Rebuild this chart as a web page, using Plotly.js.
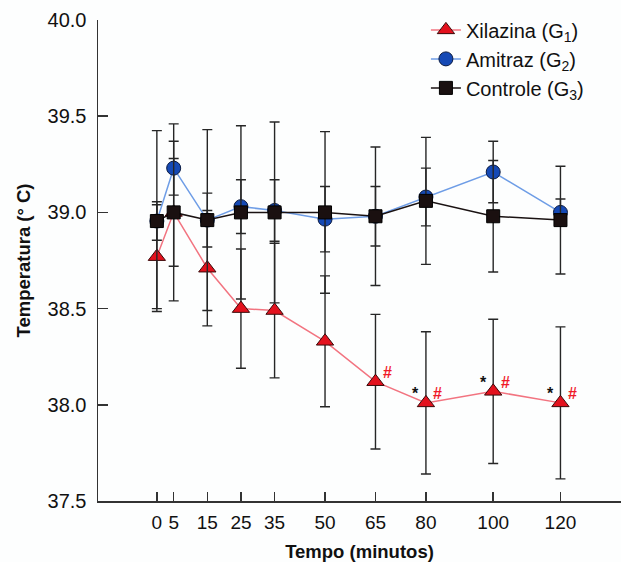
<!DOCTYPE html>
<html>
<head>
<meta charset="utf-8">
<script src="https://cdn.plot.ly/plotly-3.0.1.min.js"></script>
<style>html,body{margin:0;padding:0;background:#fff;}#chart{width:621px;height:562px;}</style>
</head>
<body>
<div id="chart"></div>
<script>
// Time points (minutes)
const tempo = [0, 5, 15, 25, 35, 50, 65, 80, 100, 120];

// Xilazina (G1)
const xilazina = [38.77, 39.00, 38.71, 38.50, 38.49, 38.33, 38.12, 38.01, 38.07, 38.01];
const xilazinaErr = [0.27, 0.46, 0.30, 0.31, 0.35, 0.34, 0.35, 0.37, 0.375, 0.395];

// Amitraz (G2)
const amitraz = [38.955, 39.23, 38.96, 39.03, 39.01, 38.965, 38.98, 39.08, 39.21, 39.00];
const amitrazErr = [0.47, 0.14, 0.47, 0.14, 0.16, 0.17, 0.155, 0.15, 0.16, 0.07];

// Controle (G3)
const controle = [38.955, 39.00, 38.96, 39.00, 39.00, 39.00, 38.98, 39.06, 38.98, 38.96];
const controleErr = [0.10, 0.28, 0.14, 0.45, 0.47, 0.42, 0.36, 0.33, 0.29, 0.28];

// Significance marks on Xilazina
const sigStar = [false, false, false, false, false, false, false, true, true, true];
const sigHash = [false, false, false, false, false, false, true, true, true, true];

const yTicks = [37.5, 38.0, 38.5, 39.0, 39.5, 40.0];

const errStyle = {type: 'data', visible: true, color: '#262626', thickness: 1.4, width: 5};

const traces = [
  {
    x: tempo, y: xilazina, name: 'Xilazina (G<sub>1</sub>)', mode: 'lines+markers', type: 'scatter',
    line: {color: '#f27480', width: 1.5},
    marker: {symbol: 'triangle-up', size: 15, color: '#e3111d', line: {color: '#3a0a0a', width: 1}},
    error_y: Object.assign({array: xilazinaErr}, errStyle)
  },
  {
    x: tempo, y: amitraz, name: 'Amitraz (G<sub>2</sub>)', mode: 'lines+markers', type: 'scatter',
    line: {color: '#6e9de6', width: 1.5},
    marker: {symbol: 'circle', size: 14, color: '#1549b5', line: {color: '#0a1a40', width: 1}},
    error_y: Object.assign({array: amitrazErr}, errStyle)
  },
  {
    x: tempo, y: controle, name: 'Controle (G<sub>3</sub>)', mode: 'lines+markers', type: 'scatter',
    line: {color: '#1a1212', width: 1.5},
    marker: {symbol: 'square', size: 13, color: '#1a1010', line: {color: '#000', width: 1}},
    error_y: Object.assign({array: controleErr}, errStyle)
  }
];

const annotations = [];
tempo.forEach((t, i) => {
  if (sigStar[i]) {
    annotations.push({x: t, y: xilazina[i], xref: 'x', yref: 'y', text: '<b>*</b>', showarrow: false,
      xshift: -10, yshift: 9, font: {family: 'Liberation Sans, Arial, sans-serif', size: 16, color: '#111'}});
  }
  if (sigHash[i]) {
    annotations.push({x: t, y: xilazina[i], xref: 'x', yref: 'y', text: '<b>#</b>', showarrow: false,
      xshift: 12, yshift: 9, font: {family: 'Liberation Sans, Arial, sans-serif', size: 16, color: '#f01a2a'}});
  }
});

const layout = {
  width: 621, height: 562,
  margin: {l: 98, r: 0, t: 20, b: 61},
  paper_bgcolor: '#fdfefe', plot_bgcolor: '#fdfefe',
  font: {family: 'Liberation Sans, Arial, sans-serif', color: '#111'},
  showlegend: true,
  legend: {x: 0.627, y: 1.02, xanchor: 'left', yanchor: 'top', bgcolor: 'rgba(0,0,0,0)',
    font: {size: 20, color: '#111'}},
  xaxis: {
    range: [-17.5, 138], tickvals: tempo, ticktext: tempo.map(String),
    ticks: 'inside', ticklen: 9, tickwidth: 1.5, tickcolor: '#333',
    showline: true, linecolor: '#333', linewidth: 1.5, showgrid: false, zeroline: false,
    tickfont: {size: 19}, ticklabelstandoff: 4,
    title: {text: '<b>Tempo (minutos)</b>', font: {size: 18.5}, standoff: 13}
  },
  yaxis: {
    range: [37.5, 40.0], tickvals: yTicks, ticktext: yTicks.map(v => v.toFixed(1)),
    ticks: 'inside', ticklen: 10, tickwidth: 1.5, tickcolor: '#333',
    showline: true, linecolor: '#333', linewidth: 1.5, showgrid: false, zeroline: false,
    tickfont: {size: 20}, ticklabelstandoff: 6,
    title: {text: '<b>Temperatura (° C)</b>', font: {size: 18.5}, standoff: 12}
  },
  annotations: annotations
};

Plotly.newPlot('chart', traces, layout, {staticPlot: true, displayModeBar: false});
</script>
</body>
</html>
